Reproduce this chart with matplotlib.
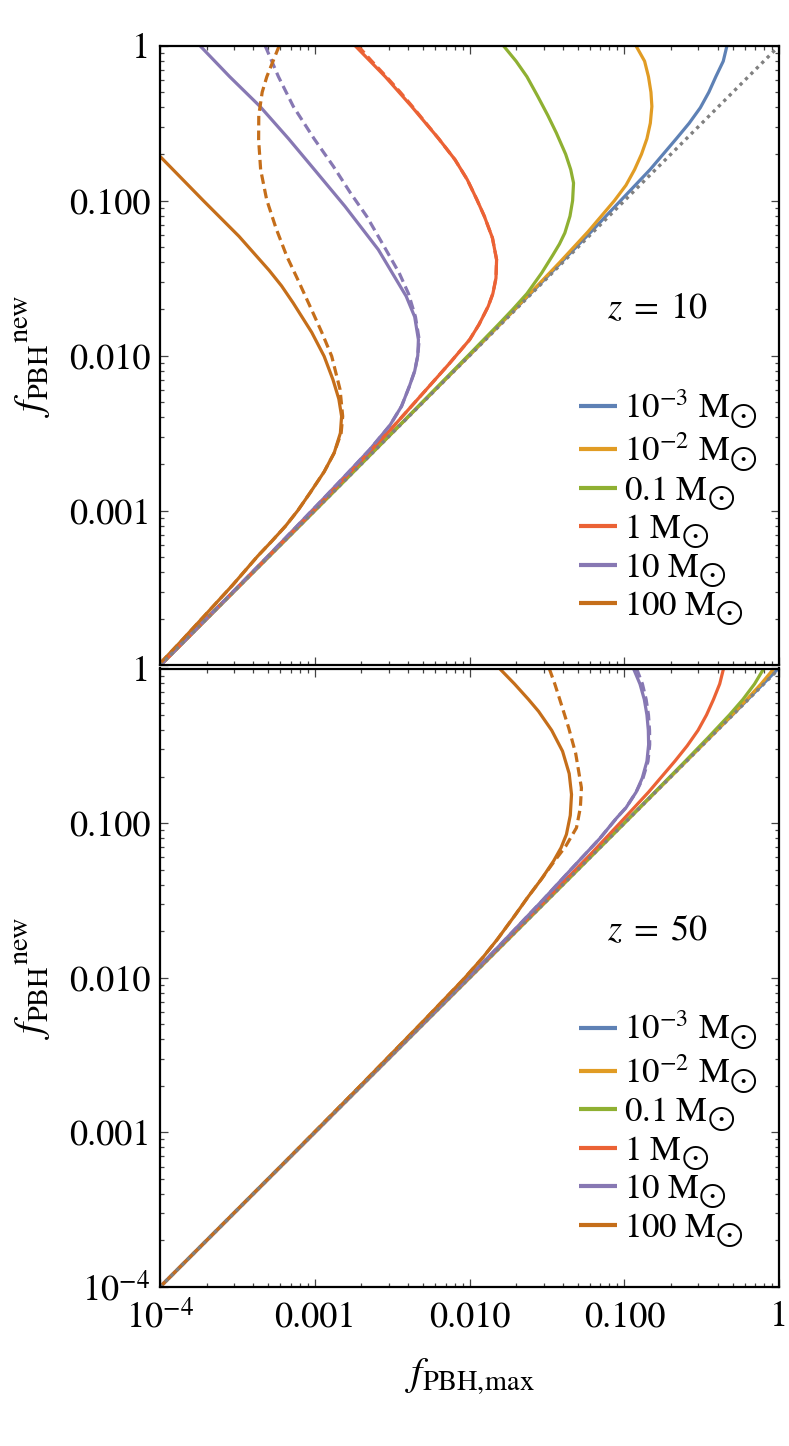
import numpy as np
import matplotlib
matplotlib.use('Agg')
import matplotlib.pyplot as plt
from matplotlib.ticker import LogLocator, NullFormatter

plt.rcParams['font.family'] = ['STIXGeneral', 'DejaVu Serif']
plt.rcParams['mathtext.fontset'] = 'stix'

masses = [r'$10^{-3}\ \mathrm{M}_{\bigodot}$', r'$10^{-2}\ \mathrm{M}_{\bigodot}$', r'$0.1\ \mathrm{M}_{\bigodot}$',
          r'$1\ \mathrm{M}_{\bigodot}$', r'$10\ \mathrm{M}_{\bigodot}$', r'$100\ \mathrm{M}_{\bigodot}$']
colors = ['#5E81B5', '#E19C24', '#8FB032', '#EB6235', '#8778B3', '#C56E1A']

# log10 f_new (y) and log10 f_max (x)
# ---- z = 10 ----
z10_m3_ly = [0, -0.1, -0.2, -0.3, -0.4, -0.5, -0.6, -0.8, -1.0, -1.2, -1.5, -2.0, -3.0, -4.0]
z10_m3_lx = [-0.338, -0.362, -0.41, -0.455, -0.51, -0.582, -0.665, -0.835, -1.025, -1.215, -1.508, -2.003, -3.0, -4.0]

z10_m2_ly = [0, -0.1, -0.2, -0.3, -0.392, -0.5, -0.6, -0.7, -0.8, -0.9, -1.0, -1.2, -1.4, -1.7, -2.0, -3.0, -4.0]
z10_m2_lx = [-0.926, -0.87, -0.845, -0.829, -0.823, -0.833, -0.855, -0.89, -0.935, -0.99, -1.065, -1.235, -1.42,
             -1.708, -2.003, -3.0, -4.0]

z10_m01_ly = [0, -0.1, -0.2, -0.327, -0.45, -0.563, -0.7, -0.8, -0.886, -1.0, -1.1, -1.208, -1.28, -1.35, -1.467,
              -1.6, -1.7, -1.8, -2.0, -2.4, -3.0, -4.0]
z10_m01_lx = [-1.782, -1.70, -1.63, -1.56, -1.495, -1.44, -1.38, -1.347, -1.329, -1.335, -1.352, -1.385, -1.42,
              -1.462, -1.535, -1.63, -1.72, -1.815, -2.01, -2.404, -3.0, -4.0]

z10_m1_ly = [0, -0.2, -0.392, -0.6, -0.735, -0.865, -0.994, -1.101, -1.24, -1.381, -1.5, -1.6, -1.682, -1.8,
             -1.897, -2.05, -2.219, -2.477, -2.757, -3.0, -3.5, -4.0]
z10_m1_lx = [-2.74, -2.545, -2.375, -2.2, -2.095, -2.015, -1.953, -1.905, -1.853, -1.826, -1.83, -1.85, -1.88,
             -1.94, -2.0, -2.13, -2.28, -2.51, -2.775, -3.008, -3.502, -4.0]
z10_m1d_ly = [0, -0.1, -0.2, -0.3, -0.392, -0.5] + z10_m1_ly[3:]
z10_m1d_lx = [-2.722, -2.632, -2.538, -2.448, -2.37, -2.282] + z10_m1_lx[3:]

z10_m10_ly = [0, -0.2, -0.392, -0.6, -0.779, -1.037, -1.316, -1.617, -1.75, -1.897, -2.0, -2.1, -2.2, -2.327,
              -2.45, -2.606, -2.75, -2.908, -3.1, -3.3, -3.6, -4.0]
z10_m10_lx = [-3.742, -3.55, -3.354, -3.17, -3.02, -2.805, -2.59, -2.41, -2.355, -2.331, -2.335, -2.355, -2.39,
              -2.44, -2.515, -2.645, -2.78, -2.93, -3.115, -3.308, -3.603, -4.0]
z10_m10d_ly = [0, -0.2, -0.392, -0.6, -0.779, -0.95, -1.101, -1.3, -1.467, -1.6, -1.75, -1.897] + z10_m10_ly[10:]
z10_m10d_lx = [-3.321, -3.235, -3.139, -3.005, -2.88, -2.77, -2.665, -2.55, -2.455, -2.395, -2.35, -2.326] \
    + z10_m10_lx[10:]

z10_m100_ly = [-0.714, -1.0, -1.23, -1.45, -1.55, -1.66, -1.85, -2.004, -2.155, -2.28, -2.392, -2.5, -2.628,
               -2.75, -2.886, -3.0, -3.101, -3.2, -3.295, -3.48, -3.66, -3.85, -4.0]
z10_m100_lx = [-4.0, -3.72, -3.49, -3.295, -3.215, -3.14, -3.02, -2.94, -2.883, -2.845, -2.827, -2.835, -2.875,
               -2.94, -3.031, -3.11, -3.19, -3.28, -3.37, -3.53, -3.695, -3.87, -4.012]
z10_m100d_ly = [0, -0.1, -0.2, -0.3, -0.45, -0.606, -0.8, -0.994, -1.18, -1.359, -1.52, -1.682, -1.85, -2.004,
                -2.219, -2.392, -2.5] + z10_m100_ly[12:]
z10_m100d_lx = [-3.23, -3.27, -3.31, -3.34, -3.362, -3.363, -3.35, -3.311, -3.25, -3.181, -3.105, -3.031, -2.955,
                -2.891, -2.837, -2.82, -2.83] + z10_m100_lx[12:]

# ---- z = 50 ----
z50_m3_ly = [0, -0.3, -4.0]
z50_m3_lx = [-0.006, -0.302, -4.0]

z50_m2_ly = [0, -0.1, -0.2, -0.3, -0.5, -0.8, -4.0]
z50_m2_lx = [-0.035, -0.118, -0.21, -0.305, -0.502, -0.8, -4.0]

z50_m01_ly = [0, -0.1, -0.2, -0.3, -0.45, -0.6, -0.9, -1.3, -4.0]
z50_m01_lx = [-0.1, -0.16, -0.235, -0.322, -0.463, -0.608, -0.903, -1.301, -4.0]

z50_m1_ly = [0, -0.1, -0.2, -0.3, -0.4, -0.5, -0.6, -0.8, -1.0, -1.2, -1.5, -2.0, -3.0, -4.0]
z50_m1_lx = [-0.36, -0.385, -0.425, -0.47, -0.525, -0.595, -0.675, -0.845, -1.03, -1.218, -1.51, -2.004, -3.0, -4.0]

z50_m10_ly = [0, -0.1, -0.2, -0.3, -0.4, -0.492, -0.6, -0.708, -0.8, -0.9, -0.966, -1.1, -1.31, -1.5, -1.8, -2.2,
              -3.0, -4.0]
z50_m10_lx = [-0.942, -0.9, -0.872, -0.855, -0.846, -0.844, -0.855, -0.885, -0.925, -0.99, -1.05, -1.16, -1.355,
              -1.53, -1.815, -2.205, -3.0, -4.0]
z50_m10d_ly = [0, -0.1, -0.2, -0.3, -0.4, -0.492, -0.6, -0.708] + z50_m10_ly[8:]
z50_m10d_lx = [-0.922, -0.884, -0.86, -0.845, -0.838, -0.837, -0.848, -0.88] + z50_m10_lx[8:]

z50_m100_ly = [0, -0.1, -0.2, -0.277, -0.4, -0.535, -0.68, -0.815, -0.95, -1.073, -1.16, -1.245, -1.36, -1.48,
               -1.6, -1.75, -1.869, -2.01, -2.3, -2.7, -3.2, -4.0]
z50_m100_lx = [-1.807, -1.71, -1.62, -1.555, -1.47, -1.40, -1.357, -1.342, -1.35, -1.375, -1.41, -1.458, -1.535,
               -1.625, -1.71, -1.82, -1.915, -2.04, -2.318, -2.708, -3.202, -4.0]
z50_m100d_ly = [0, -0.1, -0.2, -0.385, -0.55, -0.772, -0.9, -1.03, -1.15, -1.245] + z50_m100_ly[12:]
z50_m100d_lx = [-1.486, -1.45, -1.418, -1.36, -1.315, -1.278, -1.285, -1.31, -1.38, -1.452] + z50_m100_lx[12:]

diag = [1e-4, 1.0]

panels = [
    (r'$z\;=\;10$',
     [(z10_m3_lx, z10_m3_ly), (z10_m2_lx, z10_m2_ly), (z10_m01_lx, z10_m01_ly),
      (z10_m1_lx, z10_m1_ly), (z10_m10_lx, z10_m10_ly), (z10_m100_lx, z10_m100_ly)],
     [(3, z10_m1d_lx, z10_m1d_ly), (4, z10_m10d_lx, z10_m10d_ly), (5, z10_m100d_lx, z10_m100d_ly)]),
    (r'$z\;=\;50$',
     [(z50_m3_lx, z50_m3_ly), (z50_m2_lx, z50_m2_ly), (z50_m01_lx, z50_m01_ly),
      (z50_m1_lx, z50_m1_ly), (z50_m10_lx, z50_m10_ly), (z50_m100_lx, z50_m100_ly)],
     [(4, z50_m10d_lx, z50_m10d_ly), (5, z50_m100d_lx, z50_m100d_ly)]),
]

ticks = [1e-4, 1e-3, 1e-2, 1e-1, 1]
xlabels = [r'$10^{-4}$', '0.001', '0.010', '0.100', '1']
ylabels = [[' ', '0.001', '0.010', '0.100', '1'], [r'$10^{-4}$', '0.001', '0.010', '0.100', '1']]

W, H = 789, 1446
fig = plt.figure(figsize=(W / 100, H / 100), dpi=100)
boxes = [(160, 45.7, 779.3, 665.5), (160, 668.5, 779.3, 1287)]
fs = 26
lw = 2.3

for i, (ztxt, solid, dashed) in enumerate(panels):
    x0, y0, x1, y1 = boxes[i]
    ax = fig.add_axes([x0 / W, 1 - y1 / H, (x1 - x0) / W, (y1 - y0) / H])
    for k, (lx, ly) in enumerate(solid):
        ax.plot(10 ** np.array(lx), 10 ** np.array(ly), color=colors[k], lw=lw, label=masses[k],
                solid_capstyle='butt', solid_joinstyle='round')
    for k, lx, ly in dashed:
        ax.plot(10 ** np.array(lx), 10 ** np.array(ly), color=colors[k], lw=lw, ls=(0, (3.0, 1.6)))
    ax.plot(diag, diag, color='#808080', lw=2.4, ls=(0, (1.0, 1.3)))

    ax.set_xscale('log')
    ax.set_yscale('log')
    ax.set_xlim(1e-4, 1)
    ax.set_ylim(1e-4, 1)
    ax.set_xticks(ticks)
    ax.set_yticks(ticks)
    ax.set_yticklabels(ylabels[i])
    if i == 1:
        ax.set_xticklabels(xlabels)
    else:
        ax.set_xticklabels([])
    for a in (ax.xaxis, ax.yaxis):
        a.set_minor_locator(LogLocator(base=10, subs=np.arange(2, 10)))
        a.set_minor_formatter(NullFormatter())
    ax.tick_params(which='both', direction='in', top=True, right=True, labelsize=fs, width=0.9, color='#444444')
    ax.tick_params(which='major', length=6)
    ax.tick_params(which='minor', length=3.2)
    ax.tick_params(axis='y', pad=7)
    ax.tick_params(axis='x', pad=10)
    for s in ax.spines.values():
        s.set_linewidth(1.6)

    ax.text(0.803, 0.575, ztxt, transform=ax.transAxes, fontsize=fs, ha='center', va='center')
    leg = ax.legend(loc='lower left', bbox_to_anchor=(0.677, 0.06), frameon=False, fontsize=25,
                    handlelength=1.1, handletextpad=0.2, labelspacing=0.0, borderpad=0, borderaxespad=0)
    for h in leg.get_lines():
        h.set_linewidth(3)

    fig.text(33 / W, 1 - (y0 + y1) / 2 / H, r'${f_{\mathrm{PBH}}}^{\mathrm{new}}$', rotation=90,
             ha='center', va='center', fontsize=29)

fig.text(470 / W, 1 - 1377 / H, r'$f_{\mathrm{PBH,\!max}}$', ha='center', va='center', fontsize=29)

fig.savefig('out.png', dpi=100)
